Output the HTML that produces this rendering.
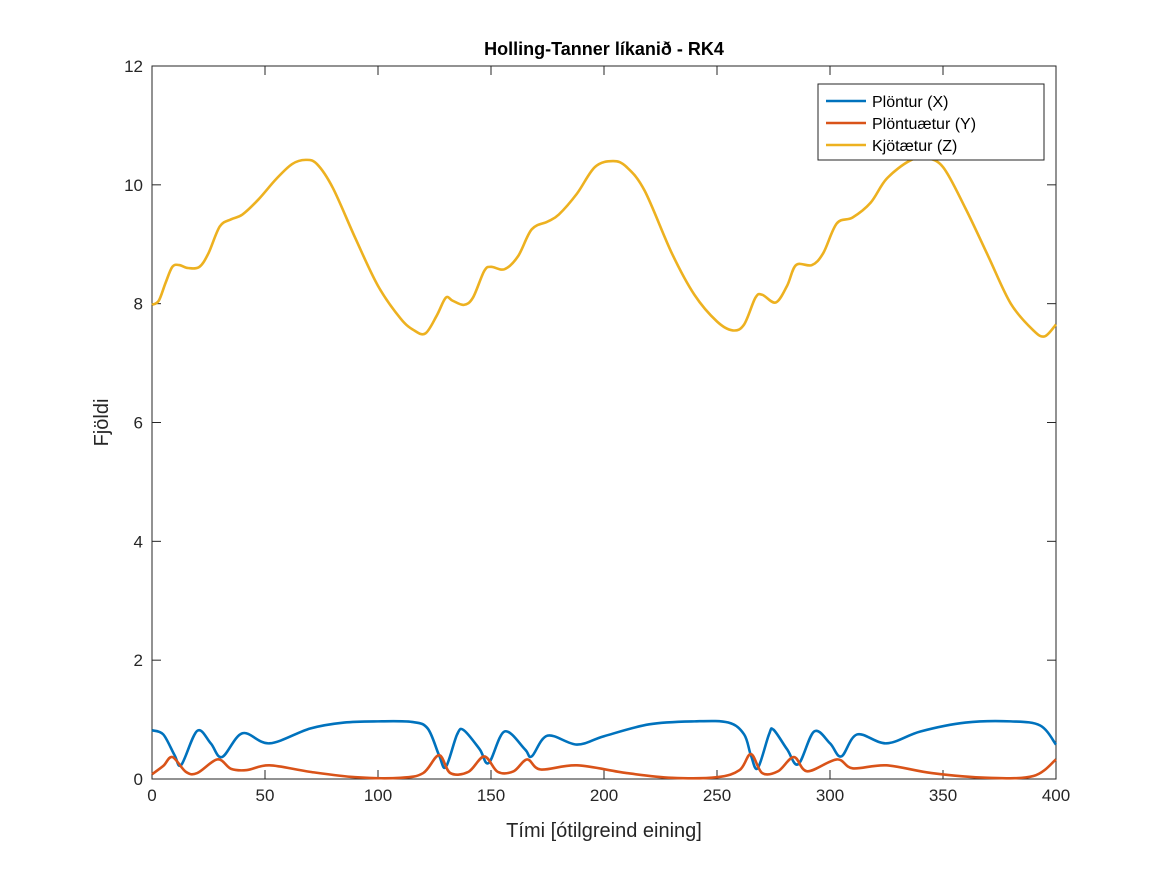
<!DOCTYPE html>
<html><head><meta charset="utf-8"><style>
body{margin:0;background:#fff}
svg{font-family:"Liberation Sans",Arial,sans-serif}
</style></head><body>
<svg width="1167" height="875" id="c"></svg>
<script>
const xTicks=[0,50,100,150,200,250,300,350,400];
const yTicks=[0,2,4,6,8,10,12];
const tX=[0,5,10,13,20,26,31,40,52,70,85,100,115,122,127,130,135,138,145,149,156,165,168,175,188,200,220,240,255,262,265,268,273,275,281,286,293,300,305,312,325,340,360,380,393,400];
const plontur=[0.82,0.75,0.4,0.24,0.81,0.6,0.37,0.77,0.6,0.85,0.95,0.97,0.96,0.85,0.4,0.2,0.75,0.82,0.5,0.27,0.8,0.5,0.38,0.73,0.58,0.72,0.92,0.97,0.95,0.75,0.4,0.18,0.75,0.83,0.5,0.25,0.8,0.6,0.38,0.75,0.6,0.8,0.95,0.97,0.9,0.58];
const tY=[0,5,9,15,20,29,35,42,52,70,90,110,120,127,132,140,147,153,160,166,172,188,210,230,250,260,265,270,277,284,290,303,310,325,345,370,390,400];
const plontuaetur=[0.08,0.22,0.37,0.12,0.1,0.33,0.17,0.15,0.23,0.12,0.03,0.02,0.1,0.4,0.1,0.12,0.38,0.12,0.13,0.33,0.16,0.23,0.1,0.02,0.03,0.15,0.42,0.1,0.13,0.37,0.13,0.33,0.18,0.23,0.1,0.02,0.05,0.33];
const tZ=[0,3,6,9,12,16,21,25,30,35,40,47,55,62,68,73,80,90,100,110,116,121,126,130,133,138,142,147,150,156,162,168,175,180,188,196,204,210,218,230,240,250,257,262,267,270,276,281,285,292,297,303,310,318,325,335,342,350,360,370,380,390,395,400];
const kjotaetur=[7.98,8.05,8.35,8.62,8.65,8.6,8.62,8.85,9.3,9.42,9.5,9.75,10.1,10.35,10.42,10.35,9.95,9.1,8.3,7.75,7.55,7.5,7.8,8.1,8.05,7.98,8.1,8.55,8.62,8.58,8.8,9.25,9.38,9.5,9.85,10.3,10.4,10.3,9.9,8.85,8.15,7.7,7.55,7.65,8.1,8.15,8.02,8.3,8.65,8.65,8.85,9.35,9.45,9.7,10.1,10.4,10.45,10.3,9.6,8.8,8.0,7.55,7.45,7.65];
const L=152,R=1056,T=66,B=779;
const sx=v=>L+(v/400)*(R-L), sy=v=>B-(v/12)*(B-T);
const svg=document.getElementById('c');const NS='http://www.w3.org/2000/svg';
function mk(tag,a,txt){const e=document.createElementNS(NS,tag);for(const k in a)e.setAttribute(k,a[k]);if(txt!=null)e.textContent=txt;svg.appendChild(e);return e;}
let e;
e=mk('rect',{x:L,y:T,width:R-L,height:B-T,fill:'#fff',stroke:'#262626','stroke-width':1});


xTicks.forEach(v=>{const x=sx(v);
e=mk('line',{x1:x,x2:x,y1:B,y2:B-9,stroke:'#262626'});


e=mk('line',{x1:x,x2:x,y1:T,y2:T+9,stroke:'#262626'});


e=mk('text',{x:x,y:B+22,'text-anchor':'middle','font-size':17,fill:'#262626'},v);

});
yTicks.forEach(v=>{const y=sy(v);
e=mk('line',{x1:L,x2:L+9,y1:y,y2:y,stroke:'#262626'});


e=mk('line',{x1:R,x2:R-9,y1:y,y2:y,stroke:'#262626'});


e=mk('text',{x:L-9,y:y+6,'text-anchor':'end','font-size':17,fill:'#262626'},v);

});
function smooth(xs,ys){const p=xs.map((x,i)=>[sx(x),sy(ys[i])]);let d='M'+p[0][0]+','+p[0][1];
for(let i=0;i<p.length-1;i++){const p0=p[i-1]||p[i],p1=p[i],p2=p[i+1],p3=p[i+2]||p2;
d+=` C${p1[0]+(p2[0]-p0[0])/6},${p1[1]+(p2[1]-p0[1])/6} ${p2[0]-(p3[0]-p1[0])/6},${p2[1]-(p3[1]-p1[1])/6} ${p2[0]},${p2[1]}`;}return d;}
const series=[[tX,plontur,'#0072BD','series-plontur'],[tY,plontuaetur,'#D95319','series-plontuaetur'],[tZ,kjotaetur,'#EDB120','series-kjotaetur']];
series.forEach(s=>{e=mk('path',{d:smooth(s[0],s[1]),fill:'none',stroke:s[2],'stroke-width':2.6,'stroke-linejoin':'round'});

});
e=mk('text',{x:(L+R)/2,y:55,'text-anchor':'middle','font-size':18,'font-weight':'bold',fill:'#000'},'Holling-Tanner líkanið - RK4');


e=mk('text',{x:(L+R)/2,y:837,'text-anchor':'middle','font-size':20,fill:'#262626'},'Tími [ótilgreind eining]');


e=mk('text',{x:108,y:(T+B)/2,'text-anchor':'middle','font-size':20,fill:'#262626',transform:`rotate(-90 108 ${(T+B)/2})`},'Fjöldi');


e=mk('rect',{x:818,y:84,width:226,height:76,fill:'#fff',stroke:'#262626','stroke-width':1});


const names=['Plöntur (X)','Plöntuætur (Y)','Kjötætur (Z)'];
names.forEach((n,i)=>{const y=101+i*22;
e=mk('line',{x1:826,x2:866,y1:y,y2:y,stroke:series[i][2],'stroke-width':2.6});


e=mk('text',{x:872,y:y+6,'font-size':16,fill:'#000'},n);

});
</script>
</body></html>
